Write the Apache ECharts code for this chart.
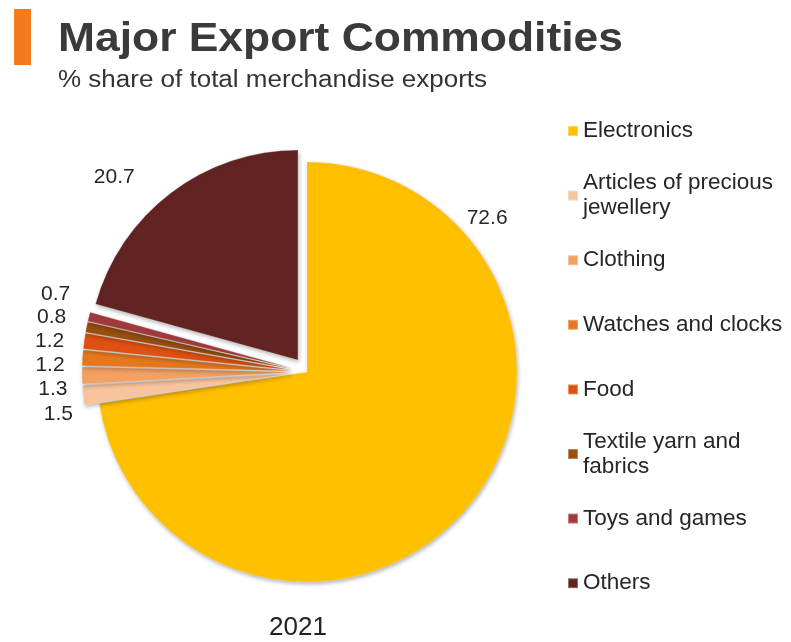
<!DOCTYPE html>
<html><head><meta charset="utf-8">
<script src="https://cdn.jsdelivr.net/npm/echarts@6/dist/echarts.min.js"></script>
<style>html,body{margin:0;padding:0;background:#fff}#c{width:791px;height:642px}</style>
</head><body><div id="c"></div>
<script>
// ---- data ----
const categories = ['Electronics','Articles of precious jewellery','Clothing','Watches and clocks','Food','Textile yarn and fabrics','Toys and games','Others'];
const legendLabels = ['Electronics','Articles of precious\njewellery','Clothing','Watches and clocks','Food','Textile yarn and\nfabrics','Toys and games','Others'];
const shares = [72.6, 1.5, 1.3, 1.2, 1.2, 0.8, 0.7, 20.7];
const yearLabel = '2021';
const titleText = 'Major Export Commodities';
const subtitleText = '% share of total merchandise exports';
const explodedSlices = [false, true, true, true, true, true, true, true];

// ---- styles ----
const colors = ['#FFC000','#F8C49E','#F3A063','#E5781F','#DE5112','#9A4E10','#A23A3C','#622323'];
const CX = 307, CY = 372, R = 210;
const FONT = '"Liberation Sans", Arial, sans-serif';

const chart = echarts.init(document.getElementById('c'), null, {renderer: 'canvas'});

const data = categories.map((n, i) => ({
  name: n,
  value: shares[i],
  selected: explodedSlices[i],
  itemStyle: {color: colors[i]},
  labelLine: i === 7 ? {length: 20, length2: 20} : {length: 8, length2: 3}
}));

const legends = categories.map((n, i) => {
  const multi = legendLabels[i].indexOf('\n') >= 0;
  const firstLineCenter = 131 + i * 64.6;
  return {
    data: [n],
    orient: 'vertical',
    left: 567,
    top: firstLineCenter - (multi ? 37.5 : 12.5),
    icon: 'rect',
    itemWidth: 10,
    itemHeight: 10,
    itemGap: 0,
    padding: 0,
    selectedMode: false,
    formatter: () => legendLabels[i],
    textStyle: {
      fontFamily: FONT, fontSize: 22.5, color: '#262626', lineHeight: 25,
      padding: multi ? [25, 0, 0, 0] : 0
    }
  };
});

const option = {
  animation: false,
  legend: legends,
  graphic: [
    {type: 'rect', shape: {x: 14, y: 9, width: 17, height: 56}, style: {fill: '#F47A20'}},
    {type: 'text', x: 58, y: 40, scaleX: 1.11, style: {text: titleText, font: 'bold 40px ' + FONT, fill: '#3a3a3a', align: 'left', verticalAlign: 'middle'}},
    {type: 'text', x: 58, y: 81, scaleX: 1.13, style: {text: subtitleText, font: '23px ' + FONT, fill: '#333', align: 'left', verticalAlign: 'middle'}},
    {type: 'text', x: 298, y: 628, style: {text: yearLabel, font: '26px ' + FONT, fill: '#222', align: 'center', verticalAlign: 'middle'}}
  ],
  series: [{
    type: 'pie',
    center: [CX, CY],
    radius: R,
    startAngle: 90,
    clockwise: true,
    selectedMode: 'multiple',
    selectedOffset: 15,
    avoidLabelOverlap: true,
    data: data,
    label: {
      show: true, position: 'outside', formatter: '{c}',
      fontFamily: FONT, fontSize: 21, color: '#262626', lineHeight: 20,
      alignTo: 'none', distanceToLabelLine: 4
    },
    labelLine: {show: false},
    itemStyle: {
      shadowBlur: 4, shadowColor: 'rgba(0,0,0,0.3)', shadowOffsetX: 1, shadowOffsetY: 2,
      borderColor: 'rgba(255,255,255,0.35)', borderWidth: 0.6
    },
    emphasis: {disabled: true},
    select: {itemStyle: {borderColor: 'rgba(255,255,255,0.35)', borderWidth: 0.6}},
    labelLayout: function (p) {
      if (p.dataIndex === 0) {
        const a = 46 * Math.PI / 180;
        return {x: CX + (R + 12) * Math.sin(a), y: CY - (R + 12) * Math.cos(a), align: 'left', verticalAlign: 'middle'};
      }
      if (p.dataIndex >= 1 && p.dataIndex <= 6) {
        return {dx: -7, dy: -21};
      }
    }
  }]
};
chart.setOption(option);
</script>
</body></html>
